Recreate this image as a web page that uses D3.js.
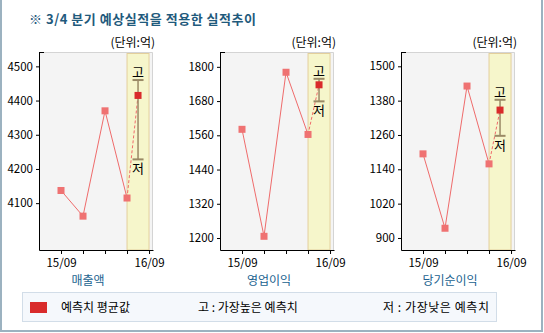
<!DOCTYPE html>
<html><head><meta charset="utf-8">
<script src="https://cdn.jsdelivr.net/npm/d3@7"></script>
<style>
html,body{margin:0;padding:0;background:#fff;}
text{font-family:"Noto Sans CJK KR","Noto Sans",sans-serif;}
</style></head>
<body><svg id="c" width="544" height="333"></svg>
<script>
const quarters = ["15/09","15/12","16/03","16/06","16/09"];
const panelNames = ["매출액","영업이익","당기순이익"];
const salesVals = [4137, 4062, 4370, 4115];
const opVals = [1581, 1206, 1781, 1563];
const netVals = [1194, 934, 1431, 1159];
const forecastAvg = [4415, 1737, 1347];
const forecastHigh = [4460, 1758, 1383];
const forecastLow = [4228, 1679, 1257];
const yTicks = [[4100,4200,4300,4400,4500],[1200,1320,1440,1560,1680,1800],[900,1020,1140,1260,1380,1500]];
const yDomains = [[3963,4542],[1158,1852],[858,1550]];
const series = [salesVals, opVals, netVals];

const svg = d3.select("#c");
// outer border
svg.append("path").attr("d","M1,0 V331 H542 V0").attr("fill","none").attr("stroke","#9cb2c0").attr("stroke-width",2);

svg.append("text").attr("x",29).attr("y",24).attr("font-size",13).attr("font-weight","bold")
  .attr("fill","#1f5a7c").attr("textLength",227).text("※ 3/4 분기 예상실적을 적용한 실적추이");

const lefts = [39,220,401];
const W = 114, plotTop = 52, plotBottom = 250;
lefts.forEach((L,p)=>{
  const g = svg.append("g");
  const x = d3.scaleLinear().domain([-1,4.18]).range([L, L+W]);
  const y = d3.scaleLinear().domain(yDomains[p]).range([plotBottom, plotTop]);
  g.append("rect").attr("x",L).attr("y",plotTop).attr("width",W).attr("height",plotBottom-plotTop).attr("fill","#f4f4f4");
  g.append("path").attr("d",`M${L},${plotTop+0.5}H${L+W-0.5}V${plotBottom}`).attr("fill","none").attr("stroke","#d4d4d4");
  g.append("rect").attr("x",x(3)).attr("y",plotTop+1.5).attr("width",x(4)-x(3)).attr("height",plotBottom-plotTop-1.5)
    .attr("fill","#f6f6cb").attr("stroke","#e3cf9c").attr("stroke-width",1);
  // axes
  const ya = d3.axisLeft(y).tickValues(yTicks[p]).tickFormat(d3.format("d")).tickSize(3).tickSizeOuter(0);
  const yg = g.append("g").attr("transform",`translate(${L},0)`).call(ya);
  yg.select(".domain").attr("stroke","#000");
  yg.selectAll("text").attr("font-size",11.5).attr("fill","#000").attr("font-family","Liberation Sans, Arial, sans-serif");
  g.append("line").attr("x1",L).attr("x2",L+5).attr("y1",plotTop+0.5).attr("y2",plotTop+0.5).attr("stroke","#000");
  const xa = d3.axisBottom(x).tickValues([0,1,2,3,4]).tickSize(4).tickSizeOuter(0)
    .tickFormat((d,i)=> (i===0||i===4)? quarters[i] : "");
  const xg = g.append("g").attr("transform",`translate(0,${plotBottom})`).call(xa);
  xg.select(".domain").attr("stroke","#000");
  xg.selectAll("text").attr("font-size",11.5).attr("fill","#000").attr("dy","0.85em").attr("font-family","Liberation Sans, Arial, sans-serif");
  // unit
  g.append("text").attr("x",L+W+2).attr("y",47).attr("text-anchor","end").attr("font-size",12).text("(단위:억)");
  // category label
  g.append("text").attr("x",L+W/2-8).attr("y",285).attr("text-anchor","middle").attr("font-size",12)
    .attr("fill","#21628f").text(panelNames[p]);
  const vals = series[p];
  const line = d3.line().x((d,i)=>x(i)).y(d=>y(d));
  g.append("path").attr("d",line(vals)).attr("fill","none").attr("stroke","#ef6b6b").attr("stroke-width",1);
  g.append("line").attr("x1",x(3)).attr("y1",y(vals[3])).attr("x2",x(3.5)).attr("y2",y(forecastAvg[p]))
    .attr("stroke","#ef6b6b").attr("stroke-width",1).attr("stroke-dasharray","3,2");
  // high-low
  const hx = x(3.5);
  g.append("line").attr("x1",hx).attr("x2",hx).attr("y1",y(forecastHigh[p])).attr("y2",y(forecastLow[p])).attr("stroke","#9a8a66").attr("stroke-width",1.5);
  [forecastHigh[p],forecastLow[p]].forEach(v=>{
    g.append("line").attr("x1",hx-5.5).attr("x2",hx+5.5).attr("y1",y(v)).attr("y2",y(v)).attr("stroke","#9a8a66").attr("stroke-width",2);
  });
  g.append("text").attr("x",hx).attr("y",y(forecastHigh[p])-3).attr("text-anchor","middle").attr("font-size",13).text("고");
  g.append("text").attr("x",hx).attr("y",y(forecastLow[p])+14).attr("text-anchor","middle").attr("font-size",13).text("저");
  g.selectAll(".pt").data(vals).enter().append("rect").attr("class","pt")
    .attr("x",(d,i)=>x(i)-3.5).attr("y",d=>y(d)-3.5).attr("width",7).attr("height",7).attr("fill","#ef7272");
  g.append("rect").attr("x",hx-3.5).attr("y",y(forecastAvg[p])-3.5).attr("width",7).attr("height",7).attr("fill","#d92b2b");
});

// legend
svg.append("rect").attr("x",22.5).attr("y",292.5).attr("width",474).attr("height",29).attr("fill","#f5f8fc").attr("stroke","#d2dde8");
svg.append("rect").attr("x",30).attr("y",302).attr("width",17).attr("height",11).attr("fill","#d92b2b");
svg.append("text").attr("x",61).attr("y",312).attr("font-size",12).text("예측치 평균값");
svg.append("text").attr("x",198).attr("y",312).attr("font-size",12).text("고 : 가장높은 예측치");
svg.append("text").attr("x",383).attr("y",312).attr("font-size",12).attr("textLength",106).text("저 : 가장낮은 예측치");
</script></body></html>
